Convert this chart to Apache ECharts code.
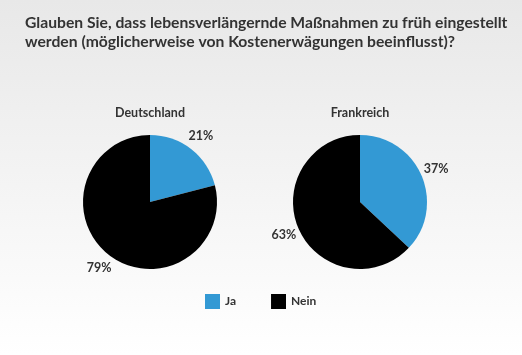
<!DOCTYPE html>
<html>
<head>
<meta charset="utf-8">
<script src="https://cdn.jsdelivr.net/npm/echarts@6/dist/echarts.min.js"></script>
<style>
html,body{margin:0;padding:0;}
#c{width:522px;height:355px;}
</style>
</head>
<body>
<div id="c"></div>
<script>
const titleText = 'Glauben Sie, dass lebensverlängernde Maßnahmen zu früh eingestellt\nwerden (möglicherweise von Kostenerwägungen beeinflusst)?';
const categories = ['Ja', 'Nein'];
const countries = ['Deutschland', 'Frankreich'];
const valuesDeutschland = [21, 79];
const valuesFrankreich = [37, 63];
const colors = ['#3399d4', '#000000'];

const FONT = 'Lato, "Open Sans", sans-serif';
const seriesValues = [valuesDeutschland, valuesFrankreich];
const centers = [['150', '202'], ['360', '202']];

const series = [];
seriesValues.forEach((vals, i) => {
  const data = categories.map((c, j) => ({ name: c, value: vals[j] }));
  series.push({
    type: 'pie',
    name: countries[i],
    center: centers[i],
    radius: [0, 67],
    startAngle: 90,
    clockwise: true,
    label: { show: false },
    labelLine: { show: false },
    emphasis: { disabled: true },
    itemStyle: { borderWidth: 0 },
    data: data
  });
  // invisible carrier for centred labels around the pie
  series.push({
    type: 'pie',
    name: countries[i] + ' labels',
    center: centers[i],
    radius: [0, 160],
    startAngle: 90,
    clockwise: true,
    silent: true,
    legendHoverLink: false,
    emphasis: { disabled: true },
    itemStyle: { color: 'rgba(0,0,0,0)', borderWidth: 0 },
    label: {
      show: true,
      position: 'inside',
      formatter: '{c}%',
      color: '#333333',
      fontFamily: FONT,
      fontWeight: 'bold',
      fontSize: 12.5
    },
    labelLine: { show: false },
    data: data.map(d => ({ name: d.name + ' ', value: d.value }))
  });
});

const chart = echarts.init(document.getElementById('c'), null, { renderer: 'canvas' });
chart.setOption({
  animation: false,
  backgroundColor: {
    type: 'linear', x: 0, y: 0, x2: 0, y2: 1,
    colorStops: [{ offset: 0, color: '#e8e8e8' }, { offset: 1, color: '#ffffff' }]
  },
  color: colors,
  title: [
    {
      text: titleText,
      left: 25, top: 13,
      padding: 0,
      textStyle: { fontFamily: FONT, fontWeight: 'bold', fontSize: 15.7, color: '#333333', lineHeight: 19.5 }
    },
    {
      text: countries[0], left: 150, top: 106, textAlign: 'center',
      padding: 0,
      textStyle: { fontFamily: FONT, fontWeight: 'bold', fontSize: 12.5, color: '#333333' }
    },
    {
      text: countries[1], left: 360, top: 106, textAlign: 'center',
      padding: 0,
      textStyle: { fontFamily: FONT, fontWeight: 'bold', fontSize: 12.5, color: '#333333' }
    }
  ],
  legend: {
    data: categories,
    left: 205, top: 294,
    padding: 0,
    itemWidth: 15, itemHeight: 15,
    itemGap: 35,
    icon: 'rect',
    selectedMode: false,
    textStyle: { fontFamily: FONT, fontWeight: 'bold', fontSize: 12, color: '#333333' }
  },
  series: series
});
</script>
</body>
</html>
